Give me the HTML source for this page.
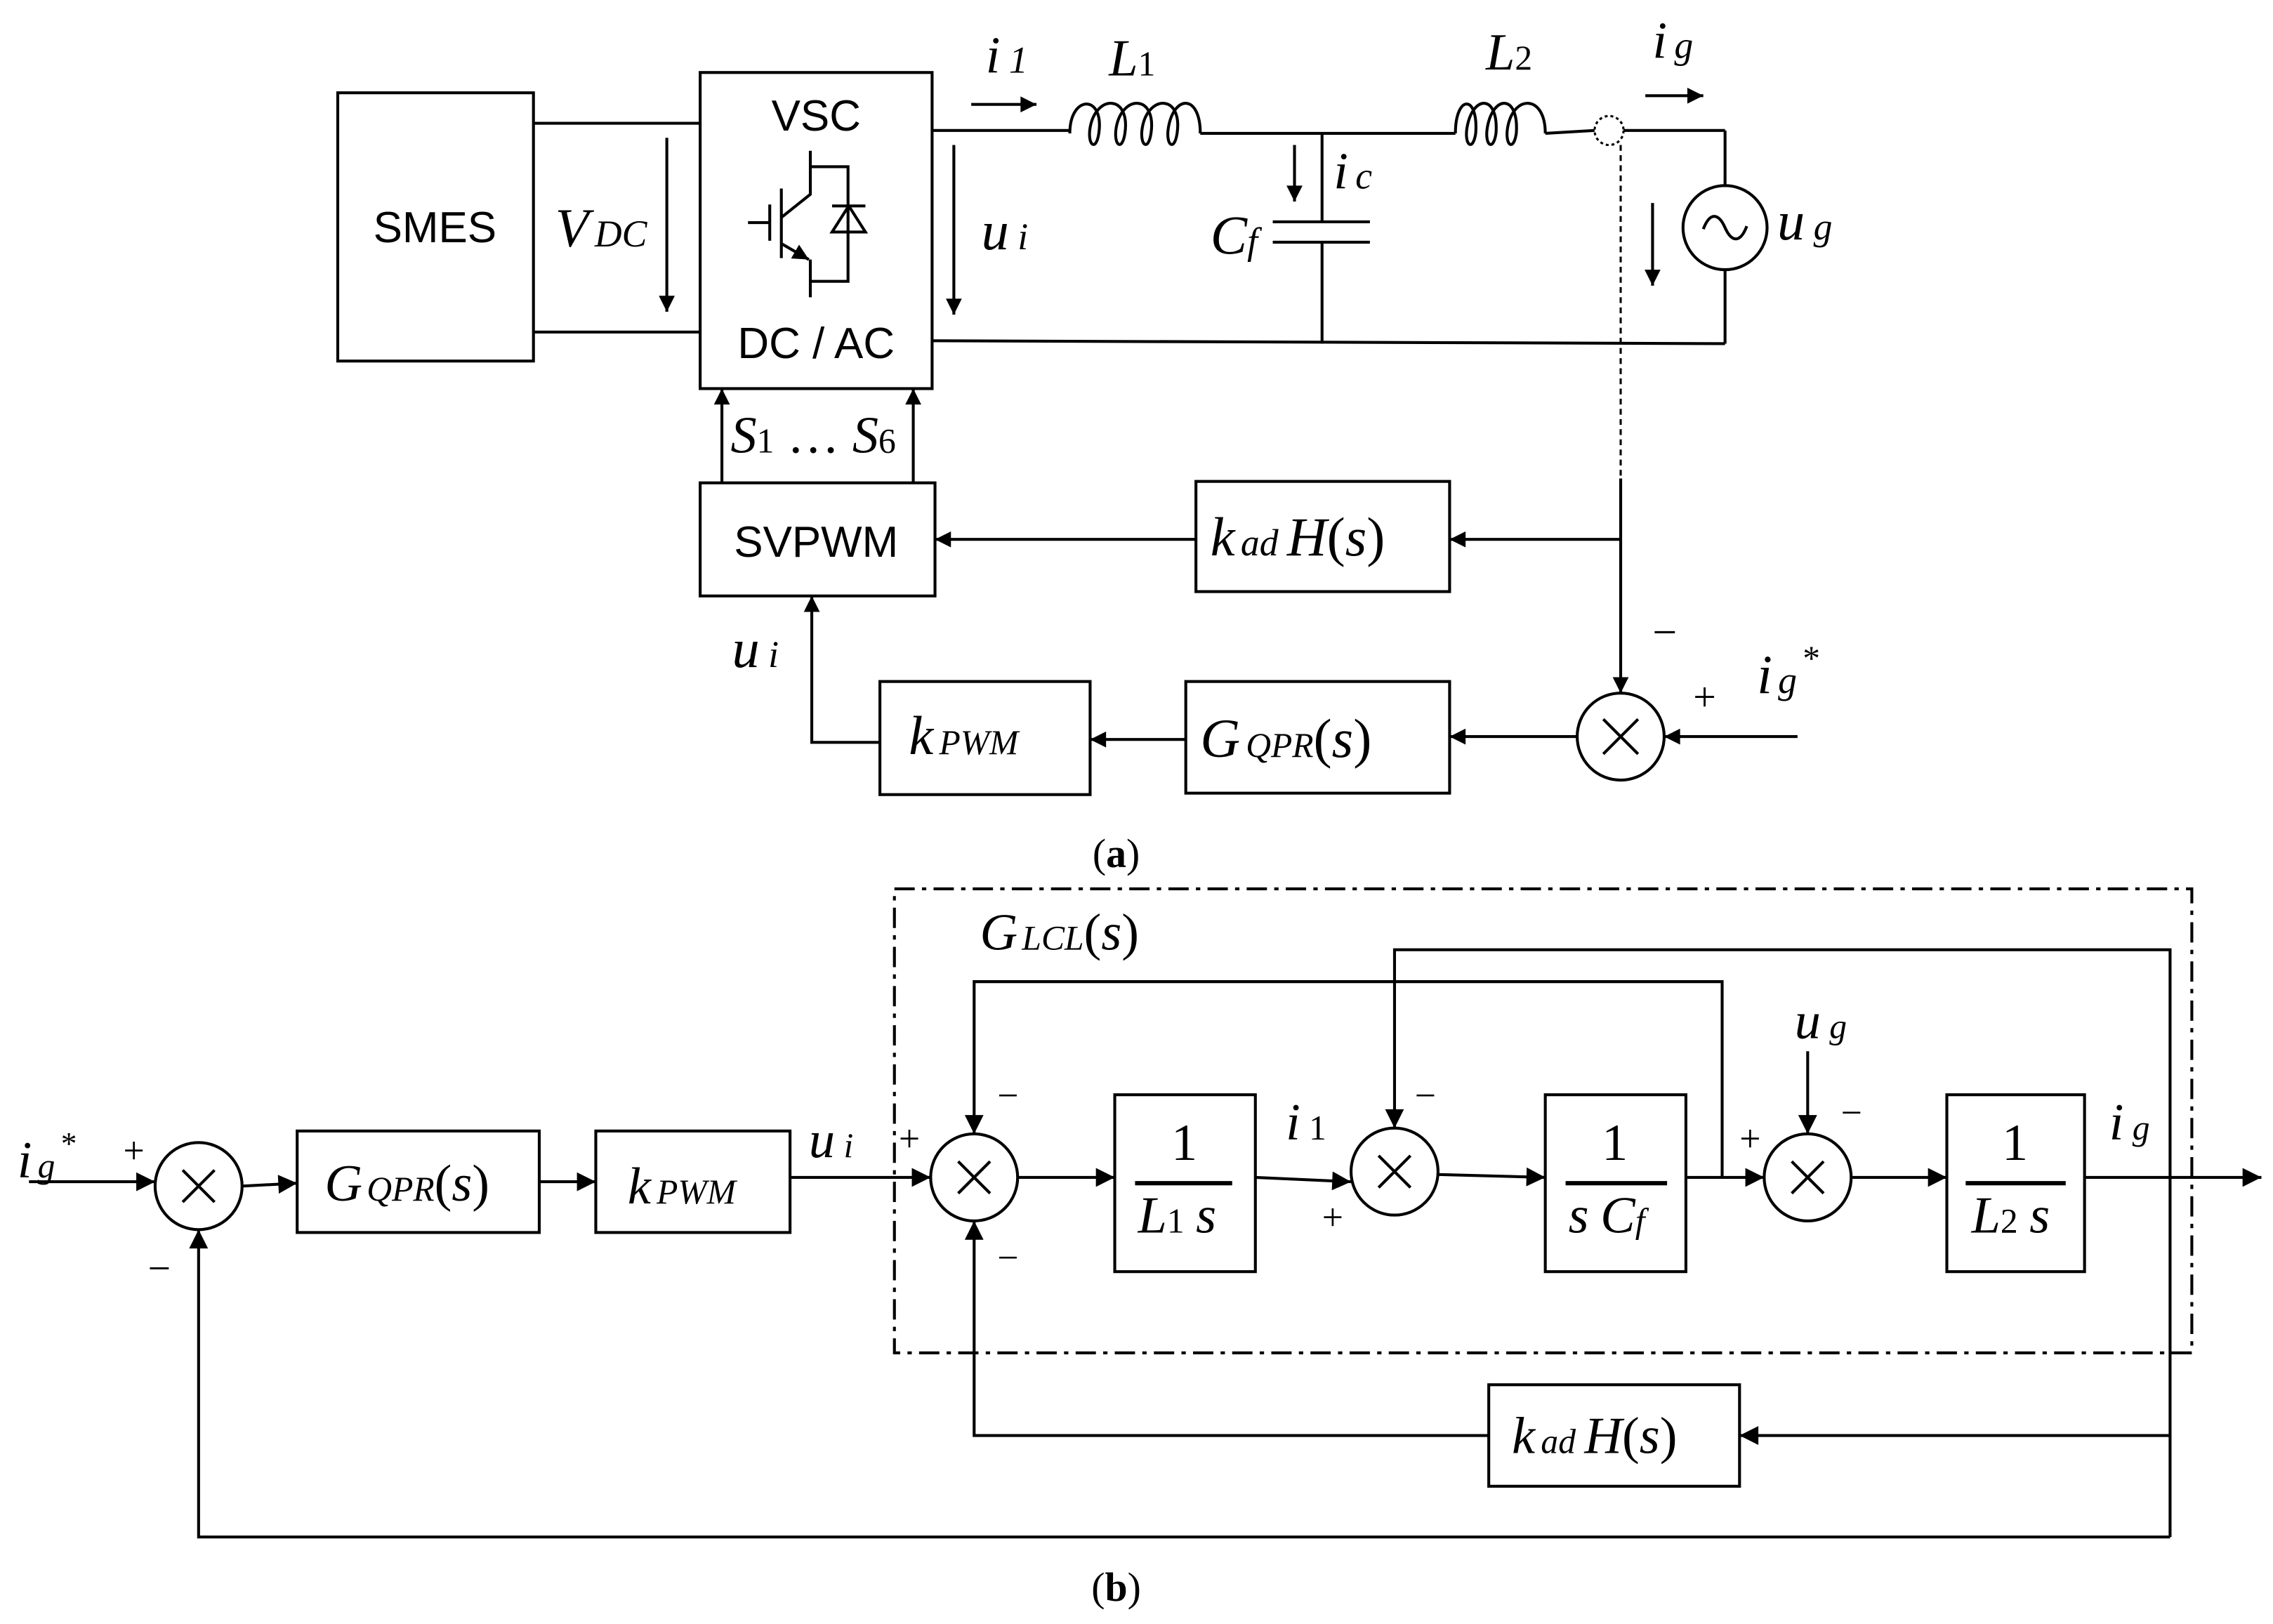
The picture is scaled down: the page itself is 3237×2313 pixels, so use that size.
<!DOCTYPE html>
<html><head><meta charset="utf-8"><style>
html,body{margin:0;padding:0;background:#fff}
svg{display:block}
.m{font-family:"Liberation Serif",serif;font-style:italic;fill:#000}
.s{font-family:"Liberation Sans",sans-serif;fill:#000}
.r{font-family:"Liberation Serif",serif;fill:#000}
</style></head><body>
<svg width="3237" height="2313" viewBox="0 0 1568 1120" preserveAspectRatio="none" xmlns="http://www.w3.org/2000/svg">
<defs>
<marker id="a" viewBox="0 0 10 10" refX="10" refY="5" markerWidth="13" markerHeight="11" markerUnits="userSpaceOnUse" orient="auto"><path d="M0,0L10,5L0,10z" fill="#000"/></marker>
<marker id="b" viewBox="0 0 10 10" refX="10" refY="5" markerWidth="16" markerHeight="13" markerUnits="userSpaceOnUse" orient="auto"><path d="M0,0L10,5L0,10z" fill="#000"/></marker>
</defs>
<g fill="none" stroke="#000" stroke-width="2">
<!-- (a) -->
<rect x="233" y="64" width="135" height="185"/>
<line x1="368" y1="85" x2="483" y2="85"/>
<line x1="368" y1="229" x2="483" y2="229"/>
<line x1="460" y1="95" x2="460" y2="215" marker-end="url(#a)"/>
<rect x="483" y="50" width="160" height="218"/>
<!-- IGBT -->
<path d="M559,104V134L539,150M539,130V178M531,141V166M516,153.5H531M559,179V205M559,115H585V194H559M574,142H597M574,160H597L585.5,142Z"/>
<line x1="539" y1="168" x2="558" y2="179" marker-end="url(#a)"/>
<line x1="643" y1="90" x2="738" y2="90"/>
<line x1="670" y1="72" x2="715" y2="72" marker-end="url(#a)"/>
<path d="M738,92 C738,65 762,65 758,92 C756,105 750,100 752,88 C756,65 780,65 776,92 C774,105 768,100 770,88 C774,65 798,65 794,92 C792,105 786,100 788,88 C792,65 816,65 812,92 C810,105 804,100 806,88 C810,65 828,65 828,92"/>
<line x1="828" y1="92" x2="1004" y2="92"/>
<path d="M1004,92 C1004,65 1020,65 1018,92 C1016,105 1010,100 1012,88 C1016,65 1034,65 1032,92 C1030,105 1024,100 1026,88 C1030,65 1048,65 1046,92 C1044,105 1038,100 1040,88 C1044,65 1066,65 1066,92"/>
<line x1="1066" y1="92" x2="1100" y2="90"/>
<circle cx="1110" cy="90" r="10" stroke-dasharray="2,2" stroke-width="1.5"/>
<line x1="1120" y1="90" x2="1190" y2="90"/>
<line x1="1135" y1="66" x2="1175" y2="66" marker-end="url(#a)"/>
<line x1="1190" y1="90" x2="1190" y2="129"/>
<circle cx="1190" cy="157" r="29"/>
<path d="M1175,158 C1180,145 1186,148 1190,157 C1194,166 1200,169 1205,156"/>
<line x1="1190" y1="186" x2="1190" y2="237"/>
<line x1="643" y1="235" x2="1190" y2="237"/>
<line x1="658" y1="100" x2="658" y2="217" marker-end="url(#a)"/>
<line x1="912" y1="92" x2="912" y2="153"/>
<line x1="878" y1="153" x2="945" y2="153"/>
<line x1="878" y1="167" x2="945" y2="167"/>
<line x1="912" y1="167" x2="912" y2="237"/>
<line x1="893" y1="100" x2="893" y2="139" marker-end="url(#a)"/>
<line x1="1140" y1="140" x2="1140" y2="197" marker-end="url(#a)"/>
<line x1="1118" y1="100" x2="1118" y2="330" stroke-dasharray="4,3" stroke-width="1.5"/>
<line x1="1118" y1="330" x2="1118" y2="478" marker-end="url(#a)"/>
<rect x="483" y="333" width="162" height="78"/>
<line x1="498" y1="333" x2="498" y2="268" marker-end="url(#a)"/>
<line x1="630" y1="333" x2="630" y2="268" marker-end="url(#a)"/>
<rect x="825" y="332" width="175" height="76"/>
<line x1="1118" y1="372" x2="1000" y2="372" marker-end="url(#a)"/>
<line x1="825" y1="372" x2="645" y2="372" marker-end="url(#a)"/>
<circle cx="1118" cy="508" r="30"/>
<path d="M1106,496L1130,520M1130,496L1106,520"/>
<line x1="1240" y1="508" x2="1148" y2="508" marker-end="url(#a)"/>
<rect x="818" y="470" width="182" height="77"/>
<line x1="1088" y1="508" x2="1000" y2="508" marker-end="url(#a)"/>
<rect x="607" y="470" width="145" height="78"/>
<line x1="818" y1="510" x2="752" y2="510" marker-end="url(#a)"/>
<polyline points="607,512 560,512 560,411" marker-end="url(#a)"/>
<!-- (b) -->
<rect x="617" y="613" width="895" height="320" stroke-dasharray="14,5,3,5"/>
<line x1="20" y1="815" x2="107" y2="815" marker-end="url(#b)"/>
<circle cx="137" cy="818" r="30"/>
<path d="M126,807L148,829M148,807L126,829"/>
<line x1="167" y1="818" x2="205" y2="816" marker-end="url(#b)"/>
<rect x="205" y="780" width="167" height="70"/>
<line x1="372" y1="815" x2="411" y2="815" marker-end="url(#b)"/>
<rect x="411" y="780" width="134" height="70"/>
<line x1="545" y1="812" x2="642" y2="812" marker-end="url(#b)"/>
<circle cx="672" cy="812" r="30"/>
<path d="M661,801L683,823M683,801L661,823"/>
<line x1="702" y1="812" x2="769" y2="812" marker-end="url(#b)"/>
<rect x="769" y="755" width="97" height="122"/>
<line x1="783" y1="816" x2="850" y2="816" stroke-width="3"/>
<line x1="866" y1="812" x2="932" y2="815" marker-end="url(#b)"/>
<circle cx="962" cy="808" r="30"/>
<path d="M951,797L973,819M973,797L951,819"/>
<line x1="992" y1="810" x2="1066" y2="812" marker-end="url(#b)"/>
<rect x="1066" y="755" width="97" height="122"/>
<line x1="1080" y1="816" x2="1150" y2="816" stroke-width="3"/>
<line x1="1163" y1="812" x2="1217" y2="812" marker-end="url(#b)"/>
<circle cx="1247" cy="812" r="30"/>
<path d="M1236,801L1258,823M1258,801L1236,823"/>
<line x1="1277" y1="812" x2="1343" y2="812" marker-end="url(#b)"/>
<rect x="1343" y="755" width="95" height="122"/>
<line x1="1356" y1="816" x2="1425" y2="816" stroke-width="3"/>
<line x1="1438" y1="812" x2="1560" y2="812" marker-end="url(#b)"/>
<line x1="1247" y1="725" x2="1247" y2="782" marker-end="url(#b)"/>
<polyline points="1188,812 1188,677 672,677 672,782" marker-end="url(#b)"/>
<polyline points="1497,812 1497,655 962,655 962,778" marker-end="url(#b)"/>
<line x1="1497" y1="812" x2="1497" y2="1060"/>
<rect x="1027" y="955" width="173" height="70"/>
<line x1="1497" y1="990" x2="1200" y2="990" marker-end="url(#b)"/>
<polyline points="1027,990 672,990 672,842" marker-end="url(#b)"/>
<polyline points="1497,1060 137,1060 137,848" marker-end="url(#b)"/>
</g>
<!-- text (a) -->
<text class="s" x="300" y="167" font-size="30" text-anchor="middle">SMES</text>
<text class="s" x="563" y="90" font-size="30" text-anchor="middle">VSC</text>
<text class="s" x="563" y="247" font-size="30" text-anchor="middle">DC / AC</text>
<text class="s" x="563" y="384" font-size="30" text-anchor="middle">SVPWM</text>
<text class="m" x="383" y="170" font-size="38">V<tspan font-size="26" dx="4">DC</tspan></text>
<text class="m" x="680" y="50" font-size="36">i<tspan font-size="26" dx="6">1</tspan></text>
<text class="m" x="765" y="52" font-size="36">L<tspan font-size="24" font-style="normal">1</tspan></text>
<text class="m" x="1025" y="48" font-size="36">L<tspan font-size="24" font-style="normal">2</tspan></text>
<text class="m" x="1140" y="40" font-size="36">i<tspan font-size="26" dx="5">g</tspan></text>
<text class="m" x="677" y="172" font-size="38">u<tspan font-size="26" dx="6">i</tspan></text>
<text class="m" x="920" y="130" font-size="36">i<tspan font-size="26" dx="5">c</tspan></text>
<text class="m" x="835" y="175" font-size="38">C<tspan font-size="26">f</tspan></text>
<text class="m" x="1226" y="165" font-size="38">u<tspan font-size="26" dx="6">g</tspan></text>
<text class="m" x="504" y="312" font-size="36">S<tspan font-size="24" font-style="normal">1</tspan><tspan font-style="normal"> … </tspan>S<tspan font-size="24" font-style="normal">6</tspan></text>
<text class="m" x="835" y="383" font-size="38">k<tspan font-size="26" dx="4">ad</tspan><tspan dx="6">H</tspan><tspan font-style="normal">(</tspan>s<tspan font-style="normal">)</tspan></text>
<text class="r" x="1140" y="446" font-size="30">−</text>
<text class="r" x="1168" y="490" font-size="28">+</text>
<text class="m" x="1212" y="478" font-size="38">i<tspan font-size="26" dx="4">g</tspan><tspan font-size="24" font-style="normal" dy="-16" dx="4">*</tspan></text>
<text class="m" x="828" y="522" font-size="38">G<tspan font-size="24" dx="4">QPR</tspan><tspan font-style="normal">(</tspan>s<tspan font-style="normal">)</tspan></text>
<text class="m" x="627" y="520" font-size="38">k<tspan font-size="24" dx="4">PWM</tspan></text>
<text class="m" x="505" y="460" font-size="38">u<tspan font-size="26" dx="6">i</tspan></text>
<text class="r" x="770" y="598" font-size="28" text-anchor="middle">(<tspan font-weight="bold">a</tspan>)</text>
<!-- text (b) -->
<text class="m" x="676" y="655" font-size="36">G<tspan font-size="24" dx="3">LCL</tspan><tspan font-style="normal">(</tspan>s<tspan font-style="normal">)</tspan></text>
<text class="m" x="12" y="812" font-size="36">i<tspan font-size="24" dx="4">g</tspan><tspan font-size="22" font-style="normal" dy="-16" dx="4">*</tspan></text>
<text class="r" x="85" y="802" font-size="26">+</text>
<text class="r" x="102" y="884" font-size="28">−</text>
<text class="m" x="224" y="828" font-size="36">G<tspan font-size="24" dx="3">QPR</tspan><tspan font-style="normal">(</tspan>s<tspan font-style="normal">)</tspan></text>
<text class="m" x="433" y="830" font-size="36">k<tspan font-size="24" dx="4">PWM</tspan></text>
<text class="m" x="558" y="798" font-size="36">u<tspan font-size="24" dx="6">i</tspan></text>
<text class="r" x="620" y="794" font-size="26">+</text>
<text class="r" x="688" y="764" font-size="26">−</text>
<text class="r" x="688" y="876" font-size="26">−</text>
<text class="r" x="817" y="800" font-size="36" text-anchor="middle">1</text>
<text class="m" x="785" y="850" font-size="36">L<tspan font-size="24" font-style="normal">1</tspan><tspan dx="8">s</tspan></text>
<text class="m" x="887" y="786" font-size="36">i<tspan font-size="24" dx="6" font-style="normal">1</tspan></text>
<text class="r" x="912" y="848" font-size="26">+</text>
<text class="r" x="976" y="764" font-size="26">−</text>
<text class="r" x="1114" y="800" font-size="36" text-anchor="middle">1</text>
<text class="m" x="1082" y="850" font-size="36">s<tspan dx="8">C</tspan><tspan font-size="24">f</tspan></text>
<text class="r" x="1200" y="794" font-size="26">+</text>
<text class="r" x="1270" y="776" font-size="26">−</text>
<text class="m" x="1238" y="716" font-size="36">u<tspan font-size="24" dx="6">g</tspan></text>
<text class="r" x="1390" y="800" font-size="36" text-anchor="middle">1</text>
<text class="m" x="1360" y="850" font-size="36">L<tspan font-size="24" font-style="normal">2</tspan><tspan dx="8">s</tspan></text>
<text class="m" x="1455" y="786" font-size="36">i<tspan font-size="24" dx="6">g</tspan></text>
<text class="m" x="1043" y="1002" font-size="36">k<tspan font-size="24" dx="4">ad</tspan><tspan dx="6">H</tspan><tspan font-style="normal">(</tspan>s<tspan font-style="normal">)</tspan></text>
<text class="r" x="770" y="1104" font-size="28" text-anchor="middle">(<tspan font-weight="bold">b</tspan>)</text>
</svg>
</body></html>
